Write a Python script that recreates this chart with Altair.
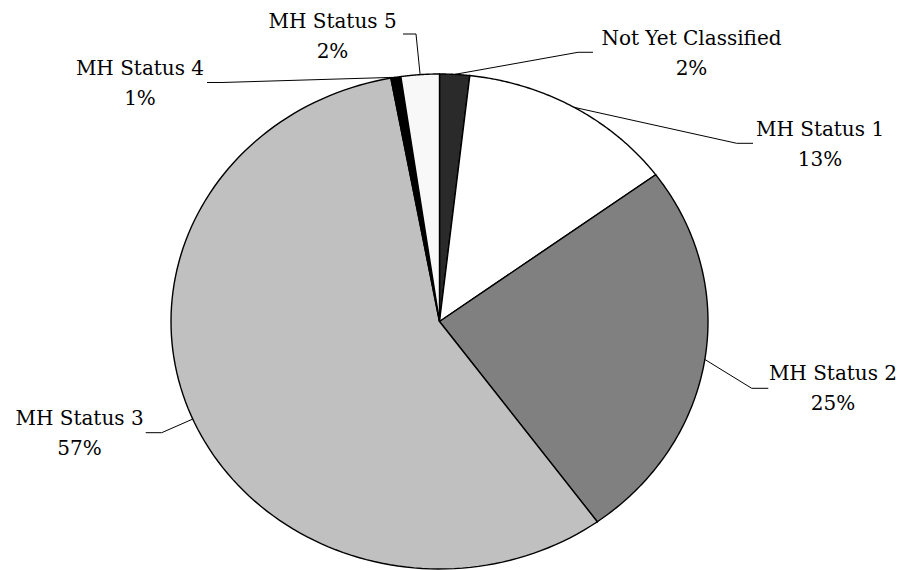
import altair as alt
import pandas as pd

# ---- data ----
categories = ["Not Yet Classified", "MH Status 1", "MH Status 2",
              "MH Status 3", "MH Status 4", "MH Status 5"]
values = [1.8, 13.1, 25.1, 57.1, 0.6, 2.3]
colors = ["#2a2a2a", "#ffffff", "#808080", "#c0c0c0", "#000000", "#f8f8f8"]

# ---- label layout, in pie-radius units (x to the right, y upward, centre 0,0) ----
label_x = [0.9385, 1.4171, 1.4655, -1.3408, -1.1155, -0.3985]
label_y = [1.1172, 0.7495, -0.2364, -0.4182, 0.9960, 1.1871]
elbow_x = [0.5158, 1.1069, 1.1628, -1.0346, -0.8101, -0.0875]
elbow_y = [1.0877, 0.7200, -0.2699, -0.4493, 0.9657, 1.1616]
end_x = [0.5717, 1.1676, 1.2246, -1.0942, -0.8659, -0.1359]
end_y = [1.0877, 0.7200, -0.2699, -0.4493, 0.9657, 1.1616]

df = pd.DataFrame({
    "cat": categories,
    "value": values,
    "order": list(range(len(categories))),
    "tx": label_x, "ty": label_y,
    "ex": elbow_x, "ey": elbow_y,
    "hx": end_x, "hy": end_y,
})

W, H = 889, 562
xs = alt.Scale(domain=[-1, 1], range=[163, 700], nice=False, zero=False)
ys = alt.Scale(domain=[-1, 1], range=[561, 66], nice=False, zero=False)

base = (
    alt.Chart(df)
    .transform_window(cum="sum(value)", sort=[alt.SortField("order")], frame=[None, 0])
    .transform_joinaggregate(total="sum(value)")
    .transform_calculate(a0="2*PI*(datum.cum-datum.value)/datum.total")
    .transform_calculate(a1="2*PI*datum.cum/datum.total")
)

slices = (
    base.transform_calculate(pts="sequence(0, 122)")
    .transform_flatten(["pts"], as_=["i"])
    .transform_calculate(r="(datum.i==0 || datum.i==121) ? 0 : 1")
    .transform_calculate(t="clamp((datum.i-1)/119, 0, 1)")
    .transform_calculate(ang="datum.a0 + datum.t*(datum.a1-datum.a0)")
    .transform_calculate(px="datum.r*sin(datum.ang)")
    .transform_calculate(py="datum.r*cos(datum.ang)")
    .mark_line(stroke="black", strokeWidth=1.4, strokeJoin="miter", interpolate="linear")
    .encode(
        x=alt.X("px:Q", scale=xs, axis=None),
        y=alt.Y("py:Q", scale=ys, axis=None),
        detail="cat:N",
        order="i:Q",
        fill=alt.Fill("cat:N", scale=alt.Scale(domain=categories, range=colors), legend=None),
    )
)

leaders = (
    base.transform_calculate(mid="(datum.a0+datum.a1)/2")
    .transform_calculate(pts="sequence(0, 3)")
    .transform_flatten(["pts"], as_=["i"])
    .transform_calculate(lx="datum.i==0 ? sin(datum.mid) : (datum.i==1 ? datum.ex : datum.hx)")
    .transform_calculate(ly="datum.i==0 ? cos(datum.mid) : (datum.i==1 ? datum.ey : datum.hy)")
    .mark_line(color="black", strokeWidth=1)
    .encode(
        x=alt.X("lx:Q", scale=xs, axis=None),
        y=alt.Y("ly:Q", scale=ys, axis=None),
        detail="cat:N",
        order="i:Q",
    )
)

labels = (
    base.transform_calculate(lab="datum.cat + '\\n' + format(datum.value/datum.total, '.0%')")
    .mark_text(font="DejaVu Serif", fontSize=20, lineBreak="\n", lineHeight=30,
               baseline="alphabetic", align="center", color="black")
    .encode(
        x=alt.X("tx:Q", scale=xs, axis=None),
        y=alt.Y("ty:Q", scale=ys, axis=None),
        text="lab:N",
    )
)

chart = (
    alt.layer(slices, leaders, labels)
    .properties(width=W, height=H, padding=0, autosize="none", background="white")
    .configure_view(stroke=None)
)

chart.save("out.html", embed_options={"renderer": "svg", "actions": False})
